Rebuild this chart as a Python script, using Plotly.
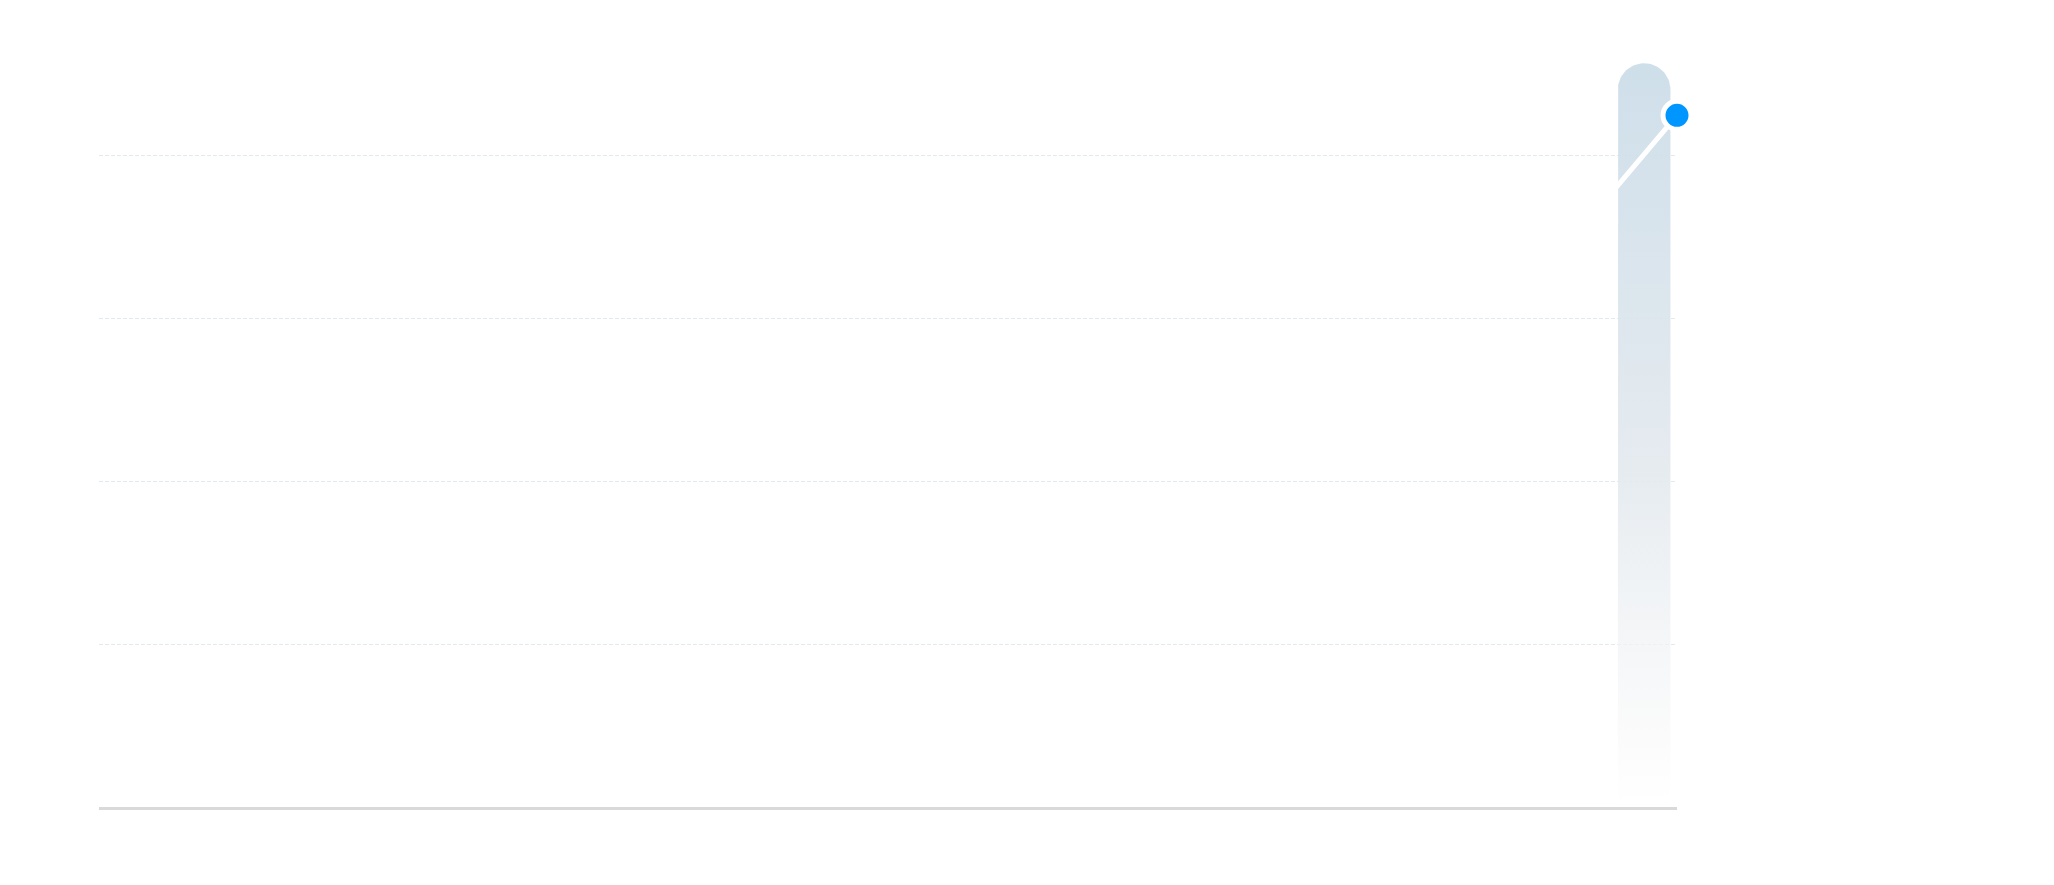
import numpy as np
import plotly.graph_objects as go

# ---- data ----
slots = list(range(24))
bar_values = [None] * 23 + [4.57]
line_values = [None] * 22 + [3.75, 4.25]
grid_ticks = [1, 2, 3, 4]

# ---- layout constants ----
W, H = 2054, 885
M_L, M_R, M_T, M_B = 91, 385, 32, 86
Y_MAX = 4.7127
BAR_W = 0.8
plot_w = W - M_L - M_R
plot_h = H - M_T - M_B
px_per_x = plot_w / len(slots)
px_per_y = plot_h / Y_MAX

fig = go.Figure()

# bars drawn as rounded-top outlines with vertical gradient fill
for xi, v in zip(slots, bar_values):
    if v is None:
        continue
    rx = BAR_W / 2
    ry = rx * px_per_x / px_per_y
    x0, x1 = xi - rx, xi + rx
    t = np.linspace(np.pi, 0, 40)
    xs = [x0, x0] + list(xi + rx * np.cos(t)) + [x1, x1, x0]
    ys = [0, v - ry] + list(v - ry + ry * np.sin(t)) + [v - ry, 0, 0]
    fig.add_trace(go.Scatter(
        x=xs, y=ys, mode="lines", fill="toself",
        line=dict(width=0, color="rgba(0,0,0,0)"),
        fillgradient=dict(
            type="vertical",
            colorscale=[[0, "rgba(255,255,255,0.5)"],
                        [0.08, "rgba(250,250,250,0.7)"],
                        [0.45, "rgba(227,233,238,0.9)"],
                        [1, "rgba(204,221,233,0.95)"]],
        ),
        hoverinfo="skip", showlegend=False, xaxis="x", yaxis="y",
    ))

# line series
fig.add_trace(go.Scatter(
    x=slots, y=line_values, mode="lines",
    line=dict(color="#ffffff", width=5),
    xaxis="x2", yaxis="y", cliponaxis=False, showlegend=False,
    connectgaps=False,
))

# last point highlight
last_idx = max(i for i, v in enumerate(line_values) if v is not None)
fig.add_trace(go.Scatter(
    x=[slots[last_idx]], y=[line_values[last_idx]], mode="markers",
    marker=dict(size=28, color="#0096ff", line=dict(color="#ffffff", width=5)),
    xaxis="x2", yaxis="y", cliponaxis=False, showlegend=False,
))

fig.update_layout(
    width=W, height=H,
    margin=dict(l=M_L, r=M_R, t=M_T, b=M_B),
    paper_bgcolor="#ffffff", plot_bgcolor="#ffffff",
    showlegend=False,
    xaxis=dict(range=[-0.5, len(slots) - 0.5], showgrid=False, zeroline=False,
               showticklabels=False, ticks="", showline=True,
               linecolor="#d9d9d9", linewidth=3),
    xaxis2=dict(range=[0, len(slots) - 1], overlaying="x", visible=False),
    yaxis=dict(range=[0, Y_MAX], tickvals=grid_ticks, showticklabels=False,
               ticks="", showgrid=True, gridcolor="#e2eaed", gridwidth=1,
               griddash="4px,2px", zeroline=False, showline=False),
)

fig.write_html("out.html")
